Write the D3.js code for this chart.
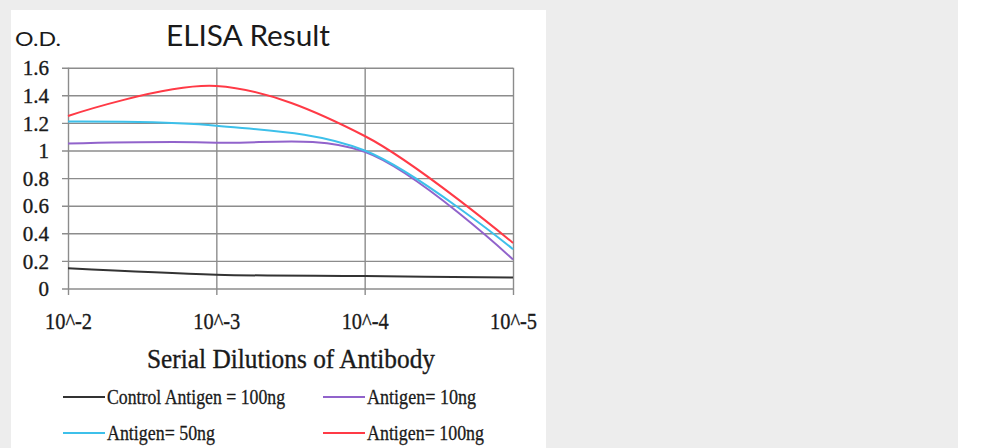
<!DOCTYPE html>
<html>
<head>
<meta charset="utf-8">
<script src="https://cdn.jsdelivr.net/npm/d3@7"></script>
<style>
  body { margin: 0; background: #ededed; }
  svg { display: block; }
</style>
</head>
<body>
<svg id="canvas"></svg>
<script>
// values
let dilutions = ['10^-2', '10^-3', '10^-4', '10^-5'];
let control100 = [0.146, 0.10, 0.09, 0.08];
let antigen10 = [1.05, 1.057, 0.99, 0.21];
let antigen50 = [1.21, 1.18, 1.0, 0.285];
let antigen100 = [1.25, 1.467, 1.105, 0.33];
let odTicks = [0, 0.2, 0.4, 0.6, 0.8, 1, 1.2, 1.4, 1.6];

let seriesNames = ['Control Antigen = 100ng', 'Antigen= 10ng', 'Antigen= 50ng', 'Antigen= 100ng'];
let seriesColors = ['#333333', '#9163cb', '#3dc0ea', '#ff3a46'];

let width = 981;
let height = 448;

let svg = d3.select('#canvas')
svg.attr('width', width).attr('height', height);

// page background pieces
svg.append('rect').attr('x', 0).attr('y', 0).attr('width', width).attr('height', height).attr('fill', '#ededed');
svg.append('rect').attr('x', 958).attr('y', 0).attr('width', 23).attr('height', height).attr('fill', '#ffffff');
svg.append('rect').attr('x', 11).attr('y', 10).attr('width', 535).attr('height', 438).attr('fill', '#ffffff');

let xScale = d3.scalePoint().domain(dilutions).range([68, 513]);
let yScale = d3.scaleLinear().domain([0, 1.6]).range([288.5, 67.7]);

let serif = "'Liberation Serif', 'Times New Roman', serif";
let ink = '#1a1a1a';

let drawAxis = () => {
  let yAxis = d3.axisLeft(yScale).tickValues(odTicks).tickSize(451).tickPadding(13)
                .tickFormat(d => d3.format('~g')(d));
  let gy = svg.append('g').attr('transform', 'translate(513,0)').call(yAxis);
  gy.select('.domain').remove();
  gy.selectAll('line').attr('stroke', '#8c8c8c').attr('stroke-width', 1.4);
  gy.selectAll('text').attr('font-family', serif).attr('font-size', 21).attr('fill', ink)
    .attr('stroke', ink).attr('stroke-width', 0.35).attr('dy', '0.34em');

  let xAxis = d3.axisBottom(xScale).tickSize(-(295 - 67.7)).tickPadding(0);
  let gx = svg.append('g').attr('transform', 'translate(0,295)').call(xAxis);
  gx.select('.domain').remove();
  gx.selectAll('line').attr('stroke', '#8c8c8c').attr('stroke-width', 1.4);
  gx.selectAll('text').attr('font-family', serif).attr('font-size', 24).attr('fill', ink)
    .attr('stroke', ink).attr('stroke-width', 0.35)
    .attr('y', 34).attr('dy', 0)
    .attr('textLength', 47).attr('lengthAdjust', 'spacingAndGlyphs');
}

let drawLines = () => {
  let allSeries = [control100, antigen10, antigen50, antigen100];
  let line = d3.line()
    .x((d, i) => xScale(dilutions[i]))
    .y(d => yScale(d))
    .curve(d3.curveCatmullRom.alpha(0.5));
  svg.append('g').selectAll('path')
    .data(allSeries)
    .enter()
    .append('path')
    .attr('d', d => line(d))
    .attr('fill', 'none')
    .attr('stroke', (d, i) => seriesColors[i])
    .attr('stroke-width', 2);
}

let drawText = () => {
  svg.append('text').text('O.D.').attr('x', 15).attr('y', 46)
     .attr('font-family', 'Lato, sans-serif').attr('font-size', 19).attr('fill', ink)
     .attr('textLength', 46).attr('lengthAdjust', 'spacingAndGlyphs');
  svg.append('text').text('ELISA Result').attr('x', 166).attr('y', 46)
     .attr('font-family', 'Lato, sans-serif').attr('font-size', 29).attr('fill', ink)
     .attr('textLength', 164).attr('lengthAdjust', 'spacingAndGlyphs');
  svg.append('text').text('Serial Dilutions of Antibody').attr('x', 147).attr('y', 368)
     .attr('font-family', serif).attr('font-size', 27).attr('fill', ink)
     .attr('stroke', ink).attr('stroke-width', 0.35)
     .attr('textLength', 288).attr('lengthAdjust', 'spacingAndGlyphs');
}

let drawLegend = () => {
  let legendX = [63, 323, 63, 323];
  let legendY = [397, 397, 433, 433];
  let legendW = [178, 109, 108, 117];
  let order = [0, 1, 2, 3];
  let g = svg.append('g');
  let items = g.selectAll('g').data(order).enter().append('g')
    .attr('transform', (d, i) => 'translate(' + legendX[i] + ',' + legendY[i] + ')');
  items.append('line').attr('x1', 0).attr('x2', 42).attr('y1', 0).attr('y2', 0)
    .attr('stroke', d => seriesColors[d]).attr('stroke-width', 2);
  items.append('text').text(d => seriesNames[d]).attr('x', 44).attr('y', 7)
    .attr('font-family', serif).attr('font-size', 21).attr('fill', ink)
    .attr('stroke', ink).attr('stroke-width', 0.3)
    .attr('textLength', (d, i) => legendW[i]).attr('lengthAdjust', 'spacingAndGlyphs');
}

drawAxis();
drawLines();
drawText();
drawLegend();
</script>
</body>
</html>
